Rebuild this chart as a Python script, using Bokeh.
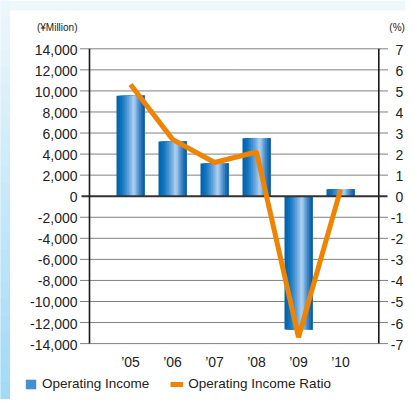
from bokeh.plotting import figure
from bokeh.models import Range1d, Legend, LegendItem
from bokeh.core.properties import value
from bokeh.embed import file_html
from bokeh.resources import INLINE

# ---------------- data ----------------
years = ["\u201905", "\u201906", "\u201907", "\u201908", "\u201909", "\u201910"]
operating_income = [9550, 5200, 3100, 5500, -12650, 650]          # ¥ million
operating_income_ratio = [5.3, 2.7, 1.6, 2.1, -6.7, 0.3]          # %
income_ticks = list(range(-14000, 14001, 2000))
ratio_ticks = list(range(-7, 8))
income_labels = [f"{t:,}" for t in income_ticks]
ratio_labels = [str(t) for t in ratio_ticks]
unit_left = "(\u00a5Million)"
unit_right = "(%)"
legend_labels = ["Operating Income", "Operating Income Ratio"]

# ---------------- layout constants (pixels) ----------------
FIG_W, FIG_H = 405, 399
CAT_PX = 42.0           # distance between bar centres
X0_PX = 130.0           # first bar centre
GRID_L_PX, GRID_R_PX = 80.0, 387.0
AXIS_L_PX, AXIS_R_PX = 89.0, 378.3
ZERO_PX = 195.7         # y pixel of value 0
SPAN_PX = 147.4         # pixels for 14,000 / 7 %
BAR_PX = 28.0
STRIP_W, STRIP_H = 9.0, 10.0
FONT = "Liberation Sans"
TXT = "#222222"

n = len(years)
xs = list(range(n))
top_val = income_ticks[-1]
k = SPAN_PX / top_val

def xd(px):
    return (px - X0_PX) / CAT_PX

def yd(py):
    return (ZERO_PX - py) / k

y_lo, y_hi = yd(FIG_H), yd(0)
ratio_scale = income_ticks[-1] / ratio_ticks[-1]

p = figure(width=FIG_W, height=FIG_H, output_backend="svg", toolbar_location=None,
           x_axis_type=None, y_axis_type=None,
           x_range=Range1d(xd(0), xd(FIG_W)), y_range=Range1d(y_lo, y_hi),
           min_border=0)
p.outline_line_color = None
p.background_fill_color = "white"
p.border_fill_color = "white"
p.extra_y_ranges = {"pct": Range1d(y_lo / ratio_scale, y_hi / ratio_scale)}

def mix(c0, c1, f):
    return "#%02x%02x%02x" % tuple(int(round(a + (b - a) * f)) for a, b in zip(c0, c1))

# ---------------- page decoration (light-blue edges) ----------------
p.quad(left=[xd(0)], right=[xd(FIG_W)], bottom=[yd(STRIP_H)], top=[yd(0)],
       fill_color="#eef7fc", line_color=None)
NS = 24
edges = [i * FIG_H / NS for i in range(NS + 1)]
p.quad(left=[xd(0)] * NS, right=[xd(STRIP_W)] * NS,
       top=[yd(e) for e in edges[:-1]], bottom=[yd(e) - 0 for e in edges[1:]],
       fill_color=[mix((238, 247, 253), (160, 218, 245), (i + 0.5) / NS) for i in range(NS)],
       line_color=[mix((238, 247, 253), (160, 218, 245), (i + 0.5) / NS) for i in range(NS)],
       line_width=1)

# ---------------- grid (dotted) ----------------
nz = [t for t in income_ticks if t != 0]
p.segment(x0=[xd(GRID_L_PX)] * len(nz), x1=[xd(GRID_R_PX)] * len(nz), y0=nz, y1=nz,
          line_color="#000000", line_width=1, line_dash="1 1")

# ---------------- gradient bars ----------------
stops = [(0.0, (0, 96, 168)), (0.2, (18, 118, 192)), (0.45, (105, 165, 222)),
         (0.62, (180, 213, 242)), (0.8, (72, 140, 205)), (1.0, (0, 88, 158))]

def grad(t):
    for (t0, c0), (t1, c1) in zip(stops[:-1], stops[1:]):
        if t0 <= t <= t1:
            return mix(c0, c1, (t - t0) / (t1 - t0))
    return mix(stops[-1][1], stops[-1][1], 0)

bar_w = BAR_PX / CAT_PX
N = 16
strips = []
for i in range(N):
    frac = i / N
    off = frac * bar_w / 2.0
    w = bar_w * (1 - frac)
    strips.append(p.vbar(x=[x + off for x in xs], top=operating_income, bottom=0, width=w,
                         fill_color=grad((i + 0.5) / N), line_color=None))

# zero line and vertical axis lines
p.segment(x0=[xd(GRID_L_PX + 1)], x1=[xd(GRID_R_PX)], y0=[0], y1=[0],
          line_color="#333333", line_width=2)
p.segment(x0=[xd(AXIS_L_PX), xd(AXIS_R_PX)], x1=[xd(AXIS_L_PX), xd(AXIS_R_PX)],
          y0=[income_ticks[0]] * 2, y1=[income_ticks[-1]] * 2,
          line_color="#1a1a1a", line_width=1.6)

line_r = p.line(xs, operating_income_ratio, y_range_name="pct",
                line_color="#f08300", line_width=5, line_join="bevel")

# ---------------- tick labels ----------------
p.text(x=[xd(AXIS_L_PX)] * len(income_ticks), y=income_ticks, text=income_labels,
       x_offset=-12, y_offset=1, text_align="right", text_baseline="middle",
       text_font=value(FONT), text_font_size="14px", text_color=TXT)
p.text(x=[xd(AXIS_R_PX)] * len(ratio_ticks), y=ratio_ticks, text=ratio_labels,
       y_range_name="pct", x_offset=24.5, y_offset=1, text_align="right",
       text_baseline="middle", text_font=value(FONT), text_font_size="14px", text_color=TXT)
p.text(x=xs, y=[income_ticks[0]] * n, text=years, y_offset=18,
       text_align="center", text_baseline="middle",
       text_font=value(FONT), text_font_size="14px", text_color=TXT)

# unit labels
p.text(x=[xd(AXIS_L_PX)], y=[income_ticks[-1]], text=[unit_left], x_offset=-12, y_offset=-21,
       text_align="right", text_baseline="middle",
       text_font=value(FONT), text_font_size="10px", text_color=TXT)
p.text(x=[xd(AXIS_R_PX)], y=[income_ticks[-1]], text=[unit_right], x_offset=10.5, y_offset=-21,
       text_align="left", text_baseline="middle",
       text_font=value(FONT), text_font_size="10px", text_color=TXT)

# ---------------- legend ----------------
legend = Legend(items=[LegendItem(label=legend_labels[0], renderers=[strips[5]]),
                       LegendItem(label=legend_labels[1], renderers=[line_r])],
                orientation="horizontal", location=(24, 8),
                glyph_width=13, glyph_height=12, label_height=12, label_standoff=5,
                spacing=21, padding=0, margin=0,
                border_line_color=None, background_fill_alpha=0,
                label_text_font=FONT, label_text_font_size="13.5px",
                label_text_color=TXT)
p.add_layout(legend, "center")

open("out.html", "w").write(file_html(p, INLINE))
